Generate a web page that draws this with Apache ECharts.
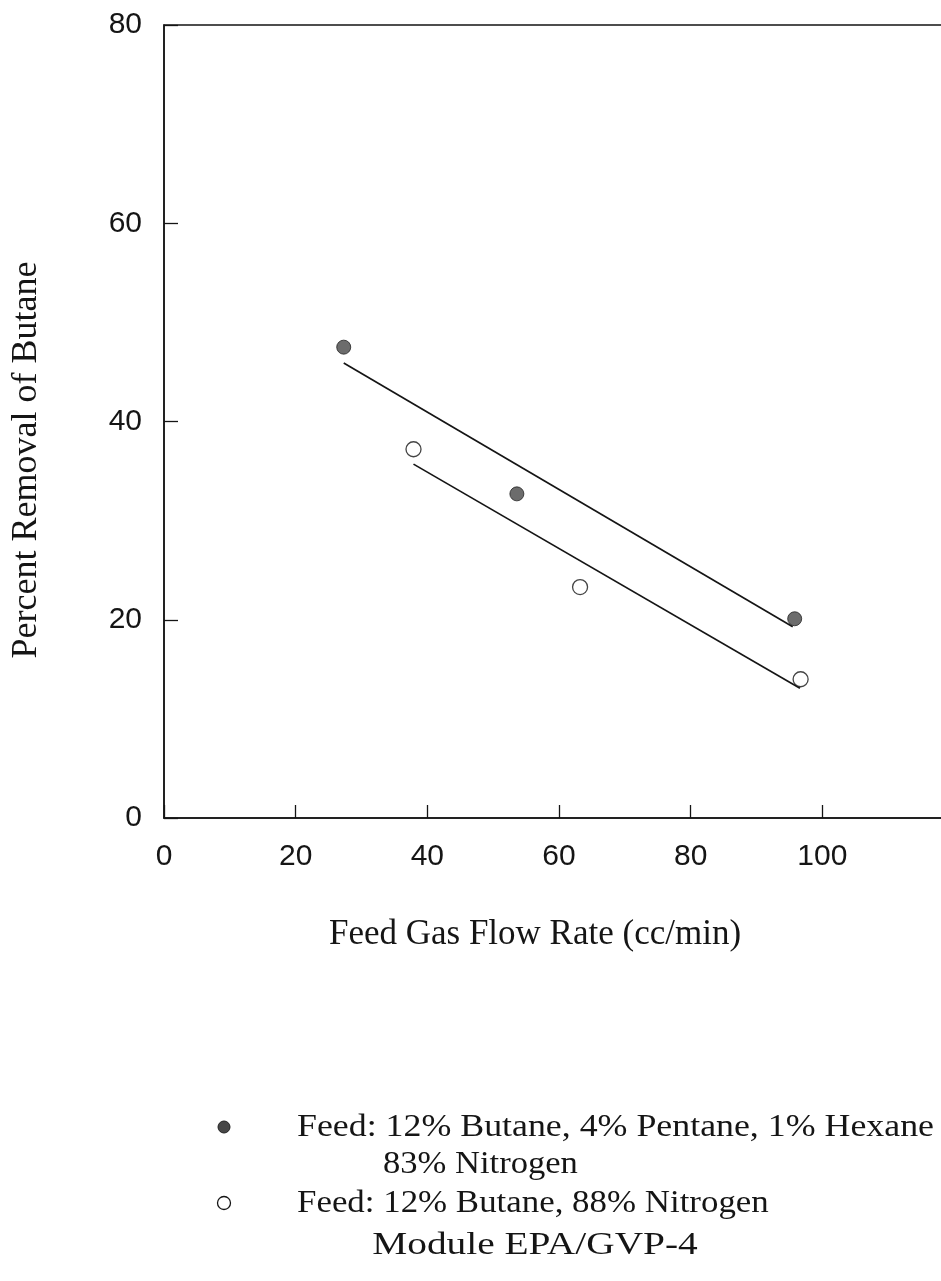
<!DOCTYPE html>
<html>
<head>
<meta charset="utf-8">
<script src="https://cdn.jsdelivr.net/npm/echarts@6/dist/echarts.min.js"></script>
<style>
html,body{margin:0;padding:0;background:#fff;}
#chart{width:941px;height:1281px;}
</style>
</head>
<body>
<div id="chart"></div>
<script>
// Data
const xTicks = [0, 20, 40, 60, 80, 100];
const yTicks = [0, 20, 40, 60, 80];
// Feed: 12% Butane, 4% Pentane, 1% Hexane, 83% Nitrogen (filled circles)
const mixFlow = [27.3, 53.6, 95.8];
const mixRemoval = [47.5, 32.7, 20.1];
// Feed: 12% Butane, 88% Nitrogen (open circles)
const butFlow = [37.9, 63.2, 96.7];
const butRemoval = [37.2, 23.3, 14.0];
// Fitted lines as drawn (end points)
const mixLineFlow = [27.3, 95.5];
const mixLineRemoval = [45.9, 19.3];
const butLineFlow = [37.9, 96.6];
const butLineRemoval = [35.7, 13.1];

const xTitle = 'Feed Gas Flow Rate (cc/min)';
const yTitle = 'Percent Removal of Butane';
const legendLine1 = 'Feed: 12% Butane, 4% Pentane, 1% Hexane';
const legendLine1b = '83% Nitrogen';
const legendLine2 = 'Feed: 12% Butane, 88% Nitrogen';
const moduleLabel = 'Module EPA/GVP-4';

const zip = (a, b) => a.map((v, i) => [v, b[i]]);

const chart = echarts.init(document.getElementById('chart'), null, {renderer: 'canvas'});
const serif = '"Liberation Serif", "Times New Roman", serif';
const sans = '"Liberation Sans", Arial, sans-serif';
const ink = '#151515';

chart.setOption({
  backgroundColor: '#ffffff',
  animation: false,
  grid: {
    left: 164, top: 25, width: 790, height: 793,
    show: true, borderColor: ink, borderWidth: 1.5,
    outerBoundsMode: 'none', containLabel: false
  },
  xAxis: {
    type: 'value', min: 0, max: 120, interval: 20,
    axisLine: {show: true, lineStyle: {color: ink, width: 1.5}},
    axisTick: {show: true, inside: true, length: 13, lineStyle: {color: ink, width: 1.3}},
    splitLine: {show: false},
    axisLabel: {
      fontFamily: sans, fontSize: 30, color: ink, margin: 24,
      formatter: v => (xTicks.indexOf(v) >= 0 ? String(v) : '')
    }
  },
  yAxis: {
    type: 'value', min: 0, max: 80, interval: 20,
    axisLine: {show: true, lineStyle: {color: ink, width: 1.5}},
    axisTick: {show: true, inside: true, length: 14, lineStyle: {color: ink, width: 1.3}},
    splitLine: {show: false},
    axisLabel: {
      fontFamily: sans, fontSize: 30, color: ink, margin: 22,
      formatter: v => (yTicks.indexOf(v) >= 0 ? String(v) : '')
    }
  },
  series: [
    {
      name: 'mix line', type: 'line', data: zip(mixLineFlow, mixLineRemoval),
      showSymbol: false, lineStyle: {color: ink, width: 1.7}, silent: true, z: 2
    },
    {
      name: 'butane line', type: 'line', data: zip(butLineFlow, butLineRemoval),
      showSymbol: false, lineStyle: {color: ink, width: 1.7}, silent: true, z: 2
    },
    {
      name: legendLine1, type: 'scatter', data: zip(mixFlow, mixRemoval),
      symbol: 'circle', symbolSize: 14,
      itemStyle: {color: '#474747', borderColor: '#222222', borderWidth: 1}, z: 3
    },
    {
      name: legendLine2, type: 'scatter', data: zip(butFlow, butRemoval),
      symbol: 'circle', symbolSize: 15,
      itemStyle: {color: '#ffffff', borderColor: ink, borderWidth: 1.3}, z: 3
    }
  ],
  graphic: [
    {
      type: 'text', x: 535, y: 935,
      style: {text: xTitle, fontFamily: serif, fontSize: 35, fill: ink, align: 'center', verticalAlign: 'middle'}
    },
    {
      type: 'text', x: 27, y: 460, rotation: Math.PI / 2,
      style: {text: yTitle, fontFamily: serif, fontSize: 36, fill: ink, align: 'center', verticalAlign: 'middle'}
    },
    {
      type: 'circle', shape: {cx: 224, cy: 1127, r: 6},
      style: {fill: '#474747', stroke: '#222222', lineWidth: 1}
    },
    {
      type: 'text', x: 297, y: 1128, scaleX: 1.12,
      style: {text: legendLine1, fontFamily: serif, fontSize: 32, fill: ink, align: 'left', verticalAlign: 'middle'}
    },
    {
      type: 'text', x: 383, y: 1165, scaleX: 1.08,
      style: {text: legendLine1b, fontFamily: serif, fontSize: 32, fill: ink, align: 'left', verticalAlign: 'middle'}
    },
    {
      type: 'circle', shape: {cx: 224, cy: 1203, r: 6.5},
      style: {fill: '#ffffff', stroke: ink, lineWidth: 1.3}
    },
    {
      type: 'text', x: 297, y: 1204, scaleX: 1.09,
      style: {text: legendLine2, fontFamily: serif, fontSize: 32, fill: ink, align: 'left', verticalAlign: 'middle'}
    },
    {
      type: 'text', x: 535, y: 1246, scaleX: 1.23,
      style: {text: moduleLabel, fontFamily: serif, fontSize: 32, fill: ink, align: 'center', verticalAlign: 'middle'}
    }
  ]
});
</script>
</body>
</html>
